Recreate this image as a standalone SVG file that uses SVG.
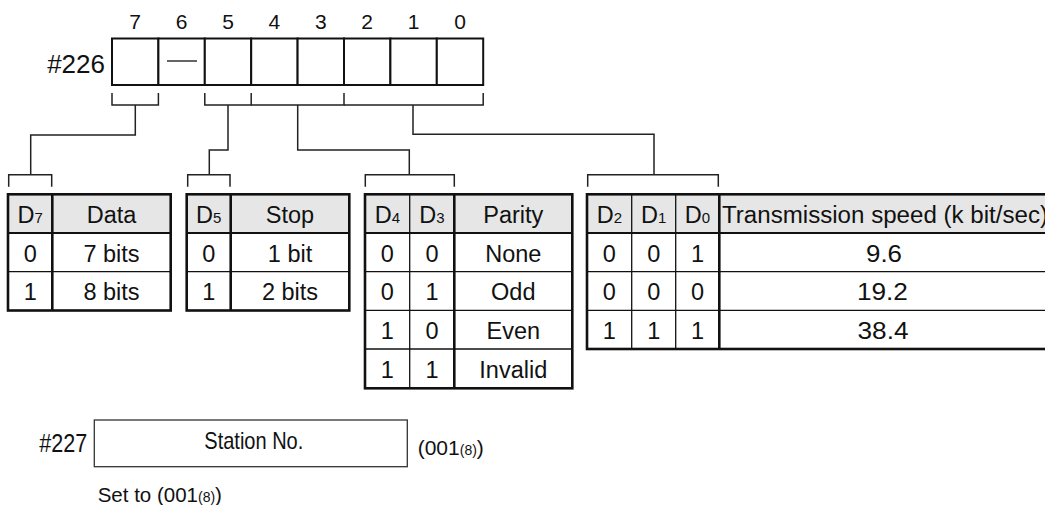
<svg xmlns="http://www.w3.org/2000/svg" width="1045" height="505" viewBox="0 0 1045 505">
<style>
text{font-family:"Liberation Sans",Arial,sans-serif;fill:#111;}
.t{font-size:23.5px;text-anchor:middle;}
.s{font-size:15px;}
.bit{font-size:21px;text-anchor:middle;}
.cell{fill:#fff;stroke:#111;stroke-width:2;}
.hdr{fill:#e6e6e6;stroke:none;}
.outer{fill:none;stroke:#111;stroke-width:2.6;}
.thin{stroke:#111;stroke-width:1.3;fill:none;}
.mid{stroke:#111;stroke-width:2;fill:none;}
.thick{stroke:#111;stroke-width:2.6;fill:none;}
.conn{fill:none;stroke:#222;stroke-width:1.5;}
</style>
<rect width="1045" height="505" fill="#fff"/>

<g id="register226">
<text x="105" y="72.8" style="font-size:26px;text-anchor:end">#226</text>
<rect class="cell" x="112" y="38.5" width="46.4" height="46.5"/>
<rect class="cell" x="158.4" y="38.5" width="46.4" height="46.5"/>
<rect class="cell" x="204.8" y="38.5" width="46.4" height="46.5"/>
<rect class="cell" x="251.2" y="38.5" width="46.4" height="46.5"/>
<rect class="cell" x="297.6" y="38.5" width="46.4" height="46.5"/>
<rect class="cell" x="344" y="38.5" width="46.4" height="46.5"/>
<rect class="cell" x="390.4" y="38.5" width="46.4" height="46.5"/>
<rect class="cell" x="436.8" y="38.5" width="46.4" height="46.5"/>
<line x1="167" y1="61" x2="197" y2="61" stroke="#111" stroke-width="1.3"/>
<text class="bit" x="135.2" y="29">7</text>
<text class="bit" x="181.6" y="29">6</text>
<text class="bit" x="228" y="29">5</text>
<text class="bit" x="274.4" y="29">4</text>
<text class="bit" x="320.8" y="29">3</text>
<text class="bit" x="367.2" y="29">2</text>
<text class="bit" x="413.6" y="29">1</text>
<text class="bit" x="460" y="29">0</text>
</g>

<g id="connectors">
<path class="conn" d="M112,93 V105 H158.4 V93"/>
<path class="conn" d="M135.3,105 V135 H30.7 V174.7"/>
<path class="conn" d="M8.7,186.7 V174.7 H51.7 V186.7"/>
<path class="conn" d="M204.8,93 V105 H251.2 V93"/>
<path class="conn" d="M228,105 V150 H209.3 V174.7"/>
<path class="conn" d="M187.7,186.7 V174.7 H230 V186.7"/>
<path class="conn" d="M251.2,105 H344 V93"/>
<path class="conn" d="M297.7,105 V150 H409.3 V174.7"/>
<path class="conn" d="M365.3,186.7 V174.7 H454.3 V186.7"/>
<path class="conn" d="M344,105 H483.2 V93"/>
<path class="conn" d="M413,105 V134.3 H654 V174.7"/>
<path class="conn" d="M587.7,186.7 V174.7 H718.3 V186.7"/>
</g>

<g id="table-data">
<rect class="hdr" x="8" y="194.3" width="162.7" height="38.7"/>
<line class="thin" x1="8" y1="271.7" x2="170.7" y2="271.7"/>
<line class="mid" x1="8" y1="233" x2="170.7" y2="233"/>
<line class="thick" x1="52.3" y1="194.3" x2="52.3" y2="310.5"/>
<rect class="outer" x="8" y="194.3" width="162.7" height="116.2"/>
<text class="t" x="30.2" y="223">D<tspan class="s">7</tspan></text>
<text class="t" x="111.5" y="223">Data</text>
<text class="t" x="30.2" y="261.7">0</text>
<text class="t" x="111.5" y="261.7">7 bits</text>
<text class="t" x="30.2" y="300">1</text>
<text class="t" x="111.5" y="300">8 bits</text>
</g>

<g id="table-stop">
<rect class="hdr" x="186.7" y="194.3" width="162.6" height="38.7"/>
<line class="thin" x1="186.7" y1="271.7" x2="349.3" y2="271.7"/>
<line class="mid" x1="186.7" y1="233" x2="349.3" y2="233"/>
<line class="thick" x1="230.7" y1="194.3" x2="230.7" y2="310.5"/>
<rect class="outer" x="186.7" y="194.3" width="162.6" height="116.2"/>
<text class="t" x="208.7" y="223">D<tspan class="s">5</tspan></text>
<text class="t" x="290" y="223">Stop</text>
<text class="t" x="208.7" y="261.7">0</text>
<text class="t" x="290" y="261.7">1 bit</text>
<text class="t" x="208.7" y="300">1</text>
<text class="t" x="290" y="300">2 bits</text>
</g>

<g id="table-parity">
<rect class="hdr" x="365" y="194.3" width="207.3" height="38.7"/>
<line class="thin" x1="365" y1="271.7" x2="572.3" y2="271.7"/>
<line class="thin" x1="365" y1="310.3" x2="572.3" y2="310.3"/>
<line class="thin" x1="365" y1="349" x2="572.3" y2="349"/>
<line class="mid" x1="365" y1="233" x2="572.3" y2="233"/>
<line class="thin" x1="409.7" y1="194.3" x2="409.7" y2="388.3"/>
<line class="thick" x1="454.3" y1="194.3" x2="454.3" y2="388.3"/>
<rect class="outer" x="365" y="194.3" width="207.3" height="194"/>
<text class="t" x="387.4" y="223">D<tspan class="s">4</tspan></text>
<text class="t" x="432" y="223">D<tspan class="s">3</tspan></text>
<text class="t" x="513.3" y="223">Parity</text>
<text class="t" x="387.4" y="261.7">0</text>
<text class="t" x="432" y="261.7">0</text>
<text class="t" x="513.3" y="261.7">None</text>
<text class="t" x="387.4" y="300.3">0</text>
<text class="t" x="432" y="300.3">1</text>
<text class="t" x="513.3" y="300.3">Odd</text>
<text class="t" x="387.4" y="339">1</text>
<text class="t" x="432" y="339">0</text>
<text class="t" x="513.3" y="339">Even</text>
<text class="t" x="387.4" y="377.6">1</text>
<text class="t" x="432" y="377.6">1</text>
<text class="t" x="513.3" y="377.6">Invalid</text>
</g>

<g id="table-speed">
<rect class="hdr" x="587" y="194.3" width="470" height="38.7"/>
<line class="thin" x1="587" y1="271.7" x2="1057" y2="271.7"/>
<line class="thin" x1="587" y1="310.3" x2="1057" y2="310.3"/>
<line class="mid" x1="587" y1="233" x2="1057" y2="233"/>
<line class="thin" x1="631.7" y1="194.3" x2="631.7" y2="349"/>
<line class="thin" x1="675.7" y1="194.3" x2="675.7" y2="349"/>
<line class="thick" x1="719.3" y1="194.3" x2="719.3" y2="349"/>
<rect class="outer" x="587" y="194.3" width="470" height="154.7"/>
<text class="t" x="609.4" y="223">D<tspan class="s">2</tspan></text>
<text class="t" x="653.7" y="223">D<tspan class="s">1</tspan></text>
<text class="t" x="697.5" y="223">D<tspan class="s">0</tspan></text>
<text x="722" y="223" style="font-size:23.5px" textLength="326" lengthAdjust="spacingAndGlyphs">Transmission speed (k bit/sec)</text>
<text class="t" x="609.4" y="261.7">0</text>
<text class="t" x="653.7" y="261.7">0</text>
<text class="t" x="697.5" y="261.7">1</text>
<text class="t" x="884" y="261.7" textLength="36" lengthAdjust="spacingAndGlyphs">9.6</text>
<text class="t" x="609.4" y="300.3">0</text>
<text class="t" x="653.7" y="300.3">0</text>
<text class="t" x="697.5" y="300.3">0</text>
<text class="t" x="882.4" y="300.3" textLength="51" lengthAdjust="spacingAndGlyphs">19.2</text>
<text class="t" x="609.4" y="339">1</text>
<text class="t" x="653.7" y="339">1</text>
<text class="t" x="697.5" y="339">1</text>
<text class="t" x="883" y="339" textLength="51" lengthAdjust="spacingAndGlyphs">38.4</text>
</g>

<g id="register227">
<text x="39.3" y="451.7" style="font-size:25px" textLength="48" lengthAdjust="spacingAndGlyphs">#227</text>
<rect x="94.3" y="420" width="313" height="46.7" fill="#fff" stroke="#333" stroke-width="1.3"/>
<text x="204.3" y="449" style="font-size:24px" textLength="99" lengthAdjust="spacingAndGlyphs">Station No.</text>
<text x="417.7" y="455" style="font-size:21px">(001<tspan style="font-size:14px">(8)</tspan>)</text>
<text x="97.7" y="501.5" style="font-size:20.5px">Set to (001<tspan style="font-size:14px">(8)</tspan>)</text>
</g>
</svg>
